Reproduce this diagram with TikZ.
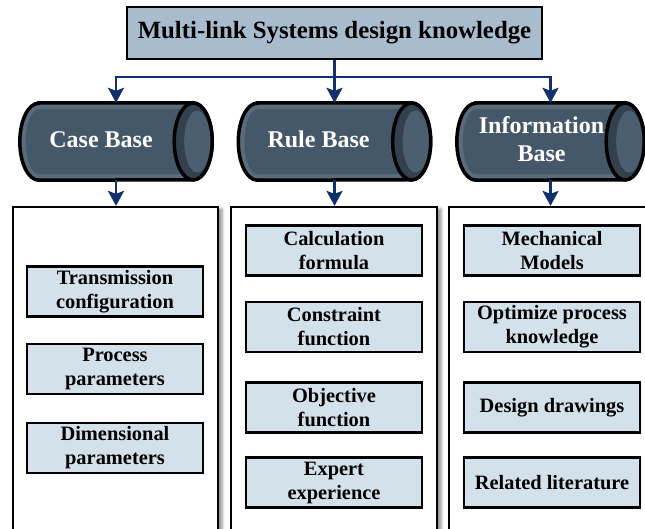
\documentclass[tikz,border=0pt]{standalone}
\usepackage{fontspec}
\setmainfont{Liberation Serif}[BoldFont={Liberation Serif Bold}]
\usetikzlibrary{arrows.meta,shadows.blur,calc}

\definecolor{navy}{HTML}{12306E}
\definecolor{headblue}{HTML}{A9BCCE}
\definecolor{itemblue}{HTML}{D3E1EA}
\definecolor{cylband}{HTML}{5A6B7B}
\definecolor{cylbody}{HTML}{45586A}
\definecolor{capdark}{HTML}{33414E}
\definecolor{caplight}{HTML}{4C5F71}

% Horizontal drum around a frame node: rounded left end, visible cap on the right
\newcommand\drawdrum[1]{%
  \fill[cylband] ([xshift=19pt]#1.north west) -- ([xshift=-19pt]#1.north east)
    arc[start angle=90,end angle=-90,x radius=19pt,y radius=38.5pt]
    -- ([xshift=19pt]#1.south west)
    arc[start angle=270,end angle=90,x radius=19pt,y radius=38.5pt] -- cycle;
  \fill[cylbody] ([xshift=19pt,yshift=-6pt]#1.north west) -- ([xshift=-19pt,yshift=-6pt]#1.north east)
    -- ([xshift=-19pt,yshift=6pt]#1.south east)
    -- ([xshift=19pt,yshift=6pt]#1.south west)
    arc[start angle=270,end angle=90,x radius=13pt,y radius=32.5pt] -- cycle;
  \draw[line width=3.5pt] ([xshift=19pt]#1.north west) -- ([xshift=-19pt]#1.north east)
    arc[start angle=90,end angle=-90,x radius=19pt,y radius=38.5pt]
    -- ([xshift=19pt]#1.south west)
    arc[start angle=270,end angle=90,x radius=19pt,y radius=38.5pt] -- cycle;
  \filldraw[fill=capdark,line width=3.5pt] ([xshift=-19pt]#1.east)
    ellipse[x radius=19pt,y radius=38.5pt];
  \fill[caplight] ([xshift=-15pt]#1.east) ellipse[x radius=13pt,y radius=31pt];
}

\begin{document}
\begin{tikzpicture}[x=1pt,y=-1pt,
  headbox/.style={draw=black,line width=2.5pt,fill=headblue,
    minimum width=415pt,minimum height=52pt,inner sep=0pt,
    font=\bfseries\fontsize{24.8}{28}\selectfont},
  panel/.style={draw=black,line width=2.2pt,fill=white,inner sep=0pt,
    blur shadow={shadow xshift=4pt,shadow yshift=-2pt,shadow blur radius=3pt,shadow opacity=45}},
  itembox/.style={draw=black,line width=2.5pt,fill=itemblue,
    minimum width=176pt,minimum height=50pt,inner sep=0pt,align=center,
    font=\bfseries\fontsize{20.4}{24}\selectfont},
  drumframe/.style={minimum width=#1,minimum height=77pt,inner sep=0pt},
  drumlabel/.style={text=white,align=center,inner sep=0pt,
    font=\bfseries\fontsize{24}{28}\selectfont},
  link/.style={draw=navy,line width=2.6pt},
  arr/.style={link,-{Stealth[length=15pt,width=16pt,inset=3pt]}}
]
\useasboundingbox (0,0) rectangle (645,529);

% lower panels
\node[panel,minimum width=205pt,minimum height=326pt] (casepanel) at (115.5,370) {};
\node[panel,minimum width=206pt,minimum height=326pt] (rulepanel) at (334,370) {};
\node[panel,minimum width=212pt,minimum height=326pt] (infopanel) at (555,370) {};

% case base items
\node[itembox] (c1) at (115,291.5) {Transmission\\configuration};
\node[itembox] (c2) at (115,369) {Process\\parameters};
\node[itembox] (c3) at (115,448) {Dimensional\\parameters};

% rule base items
\node[itembox] (r1) at (334,250.5) {Calculation\\formula};
\node[itembox] (r2) at (334,327) {Constraint\\function};
\node[itembox] (r3) at (334,407.5) {Objective\\function};
\node[itembox] (r4) at (334,482.5) {Expert\\experience};

% information base items
\node[itembox] (i1) at (552,250.5) {Mechanical\\Models};
\node[itembox] (i2) at (552,327) {Optimize process\\knowledge};
\node[itembox] (i3) at (552,407.5) {Design drawings};
\node[itembox] (i4) at (552,482.5) {Related literature};

% knowledge bases
\node[drumframe=192pt] (case) at (116,141.5) {};
\node[drumframe=192pt] (rule) at (334.5,141.5) {};
\node[drumframe=187pt] (info) at (550.5,141.5) {};
\drawdrum{case}
\drawdrum{rule}
\drawdrum{info}
\node[drumlabel] at ([xshift=-15pt,yshift=2pt]case.center) {Case Base};
\node[drumlabel] at ([xshift=-16pt,yshift=2pt]rule.center) {Rule Base};
\node[drumlabel] at ([xshift=-9pt,yshift=2pt]info.center) {Information\\Base};

% root
\node[headbox] (head) at (334.5,33) {Multi-link Systems design knowledge};

% connectors
\coordinate (hub) at (334.5,77);
\draw[link] (head.south) -- (hub);
\draw[arr] (hub) -| (case.north);
\draw[arr] (hub) -- (rule.north);
\draw[arr] (hub) -| (info.north);
\draw[arr] (case.south) -- (case.south |- casepanel.north);
\draw[arr] (rule.south) -- (rule.south |- rulepanel.north);
\draw[arr] (info.south) -- (info.south |- infopanel.north);
\end{tikzpicture}
\end{document}
